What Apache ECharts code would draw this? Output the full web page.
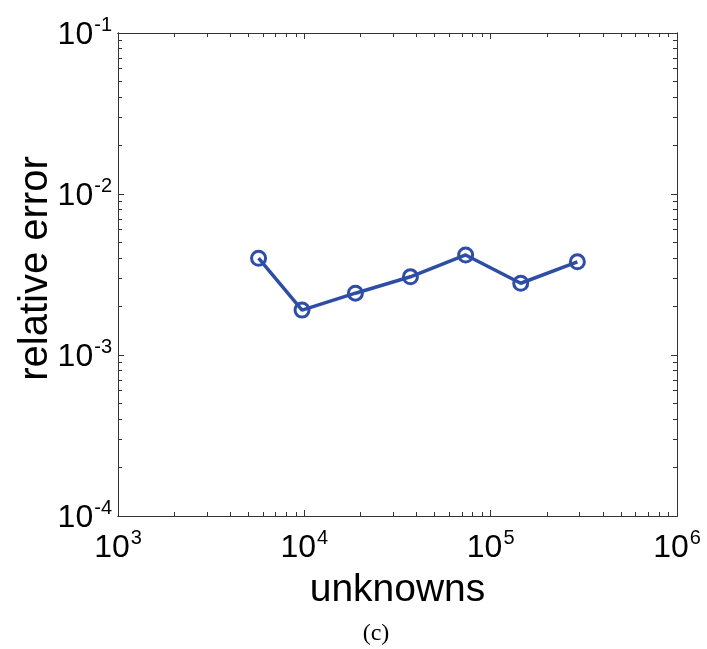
<!DOCTYPE html>
<html><head><meta charset="utf-8">
<script src="https://cdn.jsdelivr.net/npm/echarts@6/dist/echarts.min.js"></script>
<style>html,body{margin:0;padding:0;background:#fff}#c{width:707px;height:649px}</style>
</head><body><div id="c"></div>
<script>
const unknowns = [5680, 9720, 18800, 37100, 73400, 145000, 292000];
const relError = [3.99e-3, 1.90e-3, 2.42e-3, 3.06e-3, 4.18e-3, 2.79e-3, 3.79e-3];
const xMajor = [1e3, 1e4, 1e5, 1e6];
const yMajor = [1e-4, 1e-3, 1e-2, 1e-1];
const xMinor = [];
for (let d = 3; d < 6; d++) for (let m = 2; m < 10; m++) xMinor.push(m * Math.pow(10, d));
const yMinor = [];
for (let d = -4; d < -1; d++) for (let m = 2; m < 10; m++) yMinor.push(+(m * Math.pow(10, d)).toPrecision(3));

const chart = echarts.init(document.getElementById('c'), null, {renderer: 'canvas'});
const lab = v => '{b|10}{e|' + Math.round(Math.log10(v)) + '}';
const rich = {
  b: {fontFamily: 'Liberation Sans', fontSize: 32, color: '#000', verticalAlign: 'bottom', lineHeight: 36},
  e: {fontFamily: 'Liberation Sans', fontSize: 20, color: '#000', verticalAlign: 'top', lineHeight: 36, padding: [0,0,14,1]}
};
const lineStyle = {color: '#333', width: 1};
const tick = (vals, len) => ({show: true, inside: true, length: len, lineStyle: {color: '#333', width: 1}, customValues: vals});
const xBase = {type: 'log', logBase: 10, min: 1e3, max: 1e6, splitLine: {show: false}, axisLine: {show: true, lineStyle}};
const yBase = {type: 'log', logBase: 10, min: 1e-4, max: 1e-1, splitLine: {show: false}, axisLine: {show: true, lineStyle}};
chart.setOption({
  backgroundColor: '#fff',
  animation: false,
  title: {text: '(c)', left: 371, top: 617, textAlign: 'center',
    textStyle: {fontFamily: 'Liberation Serif', fontSize: 24, fontWeight: 'normal', color: '#000'}},
  grid: {left: 118, right: 30, top: 33, bottom: 133, containLabel: false},
  xAxis: [Object.assign({}, xBase, {
    position: 'bottom',
    name: 'unknowns', nameLocation: 'middle', nameGap: 55, nameMoveOverlap: false,
    nameTextStyle: {fontFamily: 'Liberation Sans', fontSize: 39, color: '#000'},
    axisTick: tick(xMajor, 6),
    axisLabel: {show: true, margin: 12, formatter: lab, rich, customValues: xMajor}
  }), Object.assign({}, xBase, {
    position: 'bottom', axisTick: tick(xMinor, 4), axisLabel: {show: false}
  }), Object.assign({}, xBase, {
    position: 'top', axisTick: tick(xMajor, 6), axisLabel: {show: false}
  }), Object.assign({}, xBase, {
    position: 'top', axisTick: tick(xMinor, 4), axisLabel: {show: false}
  })],
  yAxis: [Object.assign({}, yBase, {
    position: 'left',
    name: 'relative error', nameLocation: 'middle', nameGap: 62, nameRotate: 90, nameMoveOverlap: false,
    nameTextStyle: {fontFamily: 'Liberation Sans', fontSize: 40, color: '#000', padding: [0, 0, 0, 12]},
    axisTick: tick(yMajor, 6),
    axisLabel: {show: true, margin: 6, formatter: lab, rich, customValues: yMajor}
  }), Object.assign({}, yBase, {
    position: 'left', axisTick: tick(yMinor, 4), axisLabel: {show: false}
  }), Object.assign({}, yBase, {
    position: 'right', axisTick: tick(yMajor, 6), axisLabel: {show: false}
  }), Object.assign({}, yBase, {
    position: 'right', axisTick: tick(yMinor, 4), axisLabel: {show: false}
  })],
  series: [{
    type: 'line', xAxisIndex: 0, yAxisIndex: 0,
    data: unknowns.map((u, i) => [u, relError[i]]),
    symbol: 'circle', symbolSize: 14, showSymbol: true,
    itemStyle: {color: 'rgba(255,255,255,0)', borderColor: '#2e4ea6', borderWidth: 3},
    lineStyle: {color: '#2e4ea6', width: 3.5}
  }]
});
</script></body></html>
